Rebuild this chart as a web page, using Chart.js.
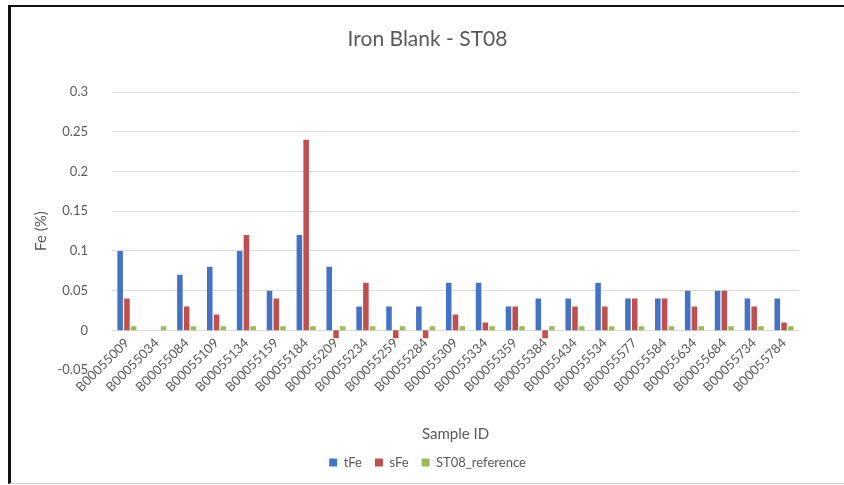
<!DOCTYPE html>
<html>
<head>
<meta charset="utf-8">
<script src="https://cdn.jsdelivr.net/npm/chart.js@4/dist/chart.umd.min.js"></script>
<style>
  body { margin: 0; background: #fff; }
  #wrap { position: relative; width: 844px; height: 485px; }
  #frame {
    position: absolute; left: 8px; top: 5px; right: 0; bottom: 1px;
    border-top: 2px solid #111; border-left: 3px solid #111; border-bottom: 1px solid #d0d0d0;
    pointer-events: none;
  }
</style>
</head>
<body>
<div id="wrap">
  <canvas id="chart" width="844" height="485"></canvas>
  <div id="frame"></div>
</div>
<script>
// sample ids along the x axis
const sampleIds = [
    'B00055009', 'B00055034', 'B00055084', 'B00055109', 'B00055134', 'B00055159',
    'B00055184', 'B00055209', 'B00055234', 'B00055259', 'B00055284', 'B00055309',
    'B00055334', 'B00055359', 'B00055384', 'B00055434', 'B00055534', 'B00055577',
    'B00055584', 'B00055634', 'B00055684', 'B00055734', 'B00055784'
];

// Fe (%) values
const tFe = [0.1, null, 0.07, 0.08, 0.1, 0.05, 0.12, 0.08, 0.03, 0.03, 0.03, 0.06,
    0.06, 0.03, 0.04, 0.04, 0.06, 0.04, 0.04, 0.05, 0.05, 0.04, 0.04];
const sFe = [0.04, null, 0.03, 0.02, 0.12, 0.04, 0.24, -0.01, 0.06, -0.01, -0.01, 0.02,
    0.01, 0.03, -0.01, 0.03, 0.03, 0.04, 0.04, 0.03, 0.05, 0.03, 0.01];
const st08Reference = [0.005, 0.005, 0.005, 0.005, 0.005, 0.005, 0.005, 0.005, 0.005, 0.005,
    0.005, 0.005, 0.005, 0.005, 0.005, 0.005, 0.005, 0.005, 0.005, 0.005, 0.005, 0.005, 0.005];

const yMin = -0.05, yMax = 0.3, yStep = 0.05;

const font = 'Lato, "Open Sans", sans-serif';
const grey = '#595959';

new Chart(document.getElementById('chart'), {
    type: 'bar',
    data: {
        labels: sampleIds,
        datasets: [
            { label: 'tFe', data: tFe, backgroundColor: '#4472C4' },
            { label: 'sFe', data: sFe, backgroundColor: '#C0504D' },
            { label: 'ST08_reference', data: st08Reference, backgroundColor: '#9BBB59' }
        ]
    },
    options: {
        responsive: false,
        animation: false,
        barPercentage: 0.82,
        categoryPercentage: 0.68,
        layout: { padding: { left: 56, right: 45, top: 0, bottom: 6 } },
        plugins: {
            title: {
                display: true,
                text: 'Iron Blank - ST08',
                color: grey,
                font: { family: font, size: 21, weight: 'normal' },
                padding: { top: 27, bottom: 40 }
            },
            // x axis title, sits below the rotated sample ids
            subtitle: {
                display: true,
                position: 'bottom',
                fullSize: false,
                text: 'Sample ID',
                color: grey,
                font: { family: font, size: 15, weight: 'normal' },
                padding: { top: 55, bottom: 0 }
            },
            legend: {
                position: 'bottom',
                weight: 1600,
                labels: {
                    color: grey,
                    font: { family: font, size: 13 },
                    boxWidth: 8,
                    boxHeight: 8,
                    padding: 13
                }
            },
            tooltip: { enabled: false }
        },
        scales: {
            x: {
                // axis sits on the zero line like the original
                position: { y: 0 },
                grid: { display: false, drawTicks: false },
                border: { display: false },
                ticks: {
                    color: grey,
                    font: { family: font, size: 13 },
                    minRotation: 45,
                    maxRotation: 45,
                    autoSkip: false,
                    padding: 5
                }
            },
            y: {
                min: yMin,
                max: yMax,
                grid: {
                    drawTicks: false,
                    color: (ctx) => (ctx.tick && ctx.tick.value <= yMin + 1e-9) ? 'rgba(0,0,0,0)' : '#d9d9d9'
                },
                border: { display: false },
                ticks: {
                    stepSize: yStep,
                    color: grey,
                    padding: 24,
                    font: { family: font, size: 13 },
                    callback: (v) => String(+v.toFixed(2))
                },
                title: {
                    display: true,
                    text: 'Fe (%)',
                    color: grey,
                    font: { family: font, size: 15 },
                    padding: { top: -24, bottom: 0 }
                },
                afterFit: (scale) => { scale.width = 56; }
            }
        }
    }
});
</script>
</body>
</html>
